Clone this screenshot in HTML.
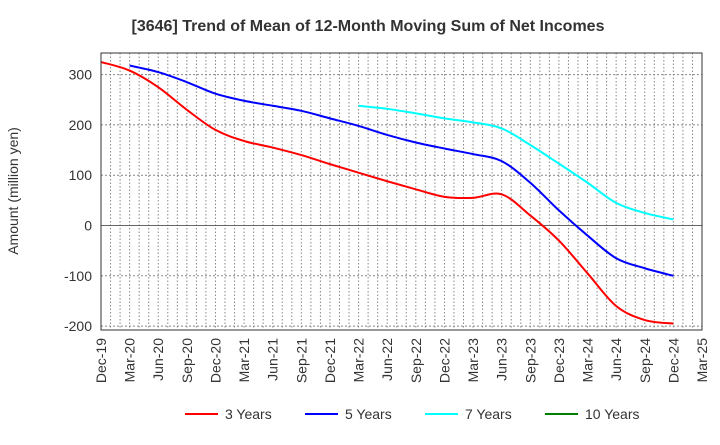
<!DOCTYPE html>
<html><head><meta charset="utf-8"><style>
body{margin:0;background:#fff;font-family:"Liberation Sans",sans-serif}
</style></head><body>
<svg id="c" width="720" height="440" xmlns="http://www.w3.org/2000/svg">
<text x="368" y="31" text-anchor="middle" font-size="16" font-weight="bold" fill="#333">[3646]  Trend of Mean of 12-Month Moving Sum of Net Incomes</text>
<text transform="translate(18,191) rotate(-90)" text-anchor="middle" font-size="14" fill="#333">Amount (million yen)</text>
<g id="grid"></g><g id="series"></g><g id="axes"></g><g id="legend"></g>
</svg>
<script>
const xLabels=["Dec-19","Mar-20","Jun-20","Sep-20","Dec-20","Mar-21","Jun-21","Sep-21","Dec-21","Mar-22","Jun-22","Sep-22","Dec-22","Mar-23","Jun-23","Sep-23","Dec-23","Mar-24","Jun-24","Sep-24","Dec-24","Mar-25"];
const yTicks=[-200,-100,0,100,200,300];
const seriesNames=["3 Years","5 Years","7 Years","10 Years"];
const seriesColors=["#ff0000","#0000ff","#00ffff","#008000"];
const s3=[325,308,275,230,190,168,155,140,122,105,88,72,57,55,62,20,-30,-95,-160,-188,-195];
const s5=[null,318,305,285,262,248,238,228,213,198,180,165,153,142,128,85,30,-20,-65,-85,-100];
const s7=[null,null,null,null,null,null,null,null,null,238,232,223,213,205,193,160,123,85,45,25,12];
const s10=[];
const L=101,R=702,T=53,B=330;
const X=i=>L+(R-L)*i/(xLabels.length-1);
const Y=v=>225.5-v*0.503;
const NS="http://www.w3.org/2000/svg";
function mk(tag,attrs,parent){const e=document.createElementNS(NS,tag);for(const k in attrs)e.setAttribute(k,attrs[k]);document.getElementById(parent).appendChild(e);return e;}
for(let m=1;m<(xLabels.length-1)*3;m++){const x=L+(R-L)*m/((xLabels.length-1)*3);
const g=mk('line',{x1:x,x2:x,y1:T,y2:B,stroke:'#888','stroke-dasharray':'1.5,2','stroke-width':1},'grid');

}
yTicks.forEach(v=>{const g=mk('line',{x1:L,x2:R,y1:Y(v),y2:Y(v),stroke:v===0?'#666':'#888','stroke-dasharray':v===0?'none':'2,2','stroke-width':1},'grid');


const t=mk('text',{x:L-9,y:Y(v)+5,'text-anchor':'end','font-size':14,fill:'#333'},'axes');t.textContent=v;

});
xLabels.forEach((l,i)=>{const t=mk('text',{transform:`translate(${X(i)+5},${B+8}) rotate(-90)`,'text-anchor':'end','font-size':14,fill:'#333'},'axes');t.textContent=l;

});
const fr=mk('rect',{x:L,y:T,width:R-L,height:B-T,fill:'none',stroke:'#333','stroke-width':1},'axes');


function path(data){const p=[];data.forEach((v,i)=>{if(v!==null&&v!==undefined)p.push([X(i),Y(v)]);});
if(p.length<2)return '';let d=`M${p[0][0]},${p[0][1]}`;
for(let i=0;i<p.length-1;i++){const p0=p[i-1]||p[i],p1=p[i],p2=p[i+1],p3=p[i+2]||p2;
d+=` C${p1[0]+(p2[0]-p0[0])/6},${p1[1]+(p2[1]-p0[1])/6} ${p2[0]-(p3[0]-p1[0])/6},${p2[1]-(p3[1]-p1[1])/6} ${p2[0]},${p2[1]}`;}return d;}
[s3,s5,s7,s10].forEach((s,k)=>{const d=path(s);if(!d)return;
const e=mk('path',{d:d,fill:'none',stroke:seriesColors[k],'stroke-width':2},'series');

});
const lx=[185,305,425,545];
seriesNames.forEach((n,k)=>{const g=mk('g',{},'legend');


const ln=document.createElementNS(NS,'line');ln.setAttribute('x1',lx[k]);ln.setAttribute('x2',lx[k]+33);ln.setAttribute('y1',414);ln.setAttribute('y2',414);ln.setAttribute('stroke',seriesColors[k]);ln.setAttribute('stroke-width',2);g.appendChild(ln);
const t=document.createElementNS(NS,'text');t.setAttribute('x',lx[k]+40);t.setAttribute('y',419);t.setAttribute('font-size',14);t.setAttribute('fill','#333');t.textContent=n;g.appendChild(t);});
</script>
</body></html>
